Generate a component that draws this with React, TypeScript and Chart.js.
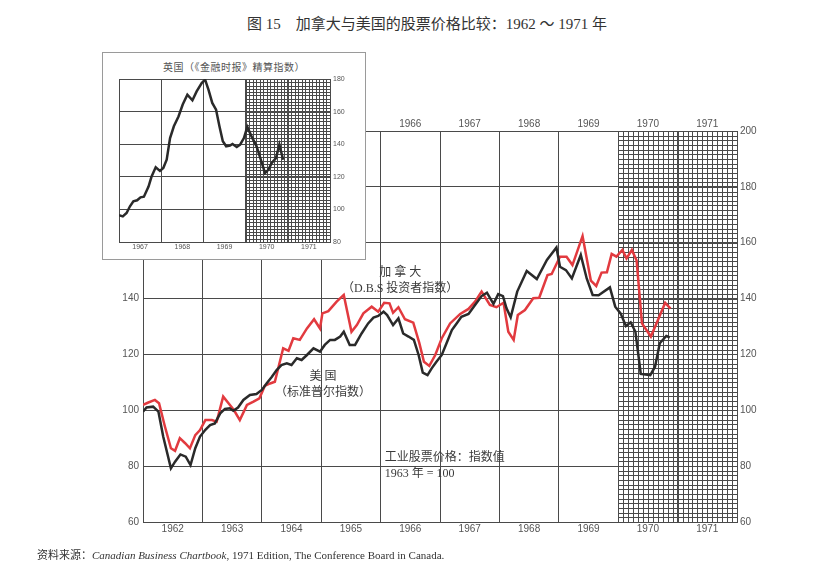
import React, { useEffect, useRef } from 'react';
import Chart from 'chart.js/auto';

// 主图：年份网格与年份标签
const gridYears = [1962, 1963, 1964, 1965, 1966, 1967, 1968, 1969, 1970, 1971, 1972];
const labelYears = [1962, 1963, 1964, 1965, 1966, 1967, 1968, 1969, 1970, 1971];

// 美国（标准普尔指数），1963 年 = 100
const usYears = [
  1962.0, 1962.06, 1962.17, 1962.26, 1962.34, 1962.47, 1962.54, 1962.63, 1962.72, 1962.8,
  1962.88, 1962.96, 1963.05, 1963.13, 1963.21, 1963.3, 1963.38, 1963.46, 1963.52, 1963.6,
  1963.69, 1963.8, 1963.91, 1964.0, 1964.08, 1964.17, 1964.25, 1964.33, 1964.42, 1964.5,
  1964.59, 1964.67, 1964.76, 1964.87, 1964.98, 1965.06, 1965.15, 1965.23, 1965.32, 1965.38,
  1965.48, 1965.57, 1965.68, 1965.79, 1965.88, 1965.96, 1966.05, 1966.11, 1966.21, 1966.3,
  1966.38, 1966.47, 1966.56, 1966.64, 1966.71, 1966.79, 1966.86, 1966.94, 1967.03, 1967.11,
  1967.2, 1967.28, 1967.36, 1967.48, 1967.59, 1967.7, 1967.79, 1967.9, 1967.98, 1968.06,
  1968.12, 1968.19, 1968.3, 1968.46, 1968.63, 1968.8, 1968.96, 1969.02, 1969.12, 1969.22,
  1969.37, 1969.47, 1969.57, 1969.67, 1969.86, 1969.95, 1970.04, 1970.13, 1970.21, 1970.29,
  1970.38, 1970.54, 1970.62, 1970.7, 1970.81, 1970.87,
];
const usValues = [
  99.5, 101, 101.3, 99.5, 90.6, 79.2, 81.6, 84.2, 83.4, 80.4,
  86.4, 90.6, 93, 94.7, 95.3, 98.9, 100.5, 100.7, 99.8, 101,
  103.7, 105.5, 105.8, 107.3, 109.6, 112, 114.4, 116.2, 116.8, 116.2,
  118.6, 118, 119.8, 122.2, 121, 123.4, 125.2, 125.2, 126.4, 128.1,
  123.4, 123.4, 127.5, 131.1, 133.2, 133.8, 135.3, 134.1, 130.5, 132.9,
  127.5, 126.4, 125.2, 119.8, 113.5, 112.6, 115, 117.4, 119.8, 124,
  128.7, 131.1, 133.5, 134.5, 137.7, 140.9, 142.1, 138.1, 141.6, 140.9,
  136.5, 133.3, 142.5, 149.9, 147, 153.8, 158.3, 151.4, 150.2, 147.2,
  155.6, 147.2, 141.3, 141.2, 144, 137.1, 134.7, 130.2, 131.5, 128.1,
  113, 112.6, 115.6, 124, 126.6, 126.1,
];

// 加拿大（D.B.S 投资者指数）
const caYears = [
  1962.0, 1962.08, 1962.2, 1962.27, 1962.37, 1962.47, 1962.54, 1962.62, 1962.71, 1962.79,
  1962.88, 1962.96, 1963.05, 1963.16, 1963.24, 1963.35, 1963.44, 1963.53, 1963.63, 1963.75,
  1963.86, 1963.96, 1964.05, 1964.14, 1964.22, 1964.36, 1964.45, 1964.53, 1964.64, 1964.76,
  1964.88, 1964.98, 1965.02, 1965.12, 1965.26, 1965.38, 1965.51, 1965.6, 1965.71, 1965.85,
  1965.96, 1966.06, 1966.15, 1966.21, 1966.3, 1966.41, 1966.55, 1966.65, 1966.73, 1966.82,
  1966.92, 1967.03, 1967.17, 1967.34, 1967.48, 1967.59, 1967.7, 1967.84, 1967.95, 1968.07,
  1968.15, 1968.24, 1968.31, 1968.43, 1968.57, 1968.67, 1968.81, 1968.88, 1969.02, 1969.13,
  1969.23, 1969.4, 1969.54, 1969.63, 1969.72, 1969.81, 1969.89, 1969.97, 1970.07, 1970.14,
  1970.23, 1970.31, 1970.4, 1970.55, 1970.68, 1970.79, 1970.88,
];
const caValues = [
  101.9, 102.7, 103.7, 102.5, 94.1, 86.4, 85.5, 90, 88.2, 86.4,
  91.1, 92.9, 96.5, 96.5, 95.9, 104.9, 102.5, 100.1, 96.5, 101.9,
  103.1, 104.3, 108.7, 109.6, 110.2, 122.2, 121.3, 125.8, 125.2, 129.3,
  132.6, 129.3, 134.7, 135.5, 138.9, 141.3, 128.1, 130.5, 134.7, 137.1,
  135.3, 138.5, 138.3, 134.9, 136.9, 132.6, 131.4, 124.2, 117.4, 115.9,
  119.8, 125.8, 131.1, 134.5, 136.3, 138.9, 142.5, 137.7, 136.9, 138.5,
  128.1, 125.2, 134.1, 135.9, 140.1, 140.3, 148.4, 148.8, 155, 155,
  152, 162.4, 146.4, 144.5, 149.3, 149.4, 156, 155, 157.4, 154.4,
  157.4, 153.6, 131.1, 126.4, 132.9, 138.5, 136.4,
];

// 插图：英国（《金融时报》精算指数）
const ukGridYears = [1967, 1968, 1969, 1970, 1971, 1972];
const ukLabelYears = [1967, 1968, 1969, 1970, 1971];
const ukYears = [
  1967.0, 1967.09, 1967.18, 1967.26, 1967.34, 1967.43, 1967.51, 1967.59, 1967.7, 1967.77,
  1967.87, 1967.97, 1968.05, 1968.13, 1968.21, 1968.3, 1968.41, 1968.51, 1968.62, 1968.74,
  1968.84, 1968.96, 1969.04, 1969.12, 1969.21, 1969.3, 1969.38, 1969.46, 1969.54, 1969.63,
  1969.69, 1969.79, 1969.87, 1969.96, 1970.04, 1970.14, 1970.26, 1970.36, 1970.46, 1970.54,
  1970.62, 1970.72, 1970.8, 1970.89,
];
const ukValues = [
  96.4, 95.7, 97.8, 101.9, 105, 105.6, 107.4, 107.8, 114, 120,
  125.8, 123.6, 125.4, 130.5, 143.8, 151, 157, 164.3, 170.4, 166.9,
  172.4, 177.5, 179.6, 173.5, 165.3, 161.2, 151, 141.8, 138.7, 139.1,
  140.1, 138.3, 139.7, 143.8, 150.6, 144.8, 138.7, 130.5, 122.3, 124.3,
  128.5, 131.5, 139.7, 130.5,
];

const GRID = '#4a4a4a';
const TICK = '#555';
const RED = '#e23a3f';
const INK = '#2a2a2a';
const CJK_SERIF = '"Liberation Serif", "Noto Sans CJK SC", serif';

const toPoints = (xs: number[], ys: number[]) => xs.map((x, i) => ({ x, y: ys[i] }));

// 1970 年以后的细格（预测区）
const hatchPlugin = (from: number, to: number, valueStep: number) => ({
  id: 'hatch',
  beforeDatasetsDraw(chart: any) {
    const { ctx, chartArea } = chart;
    const xs = chart.scales.x;
    const ys = chart.scales.y;
    const left = xs.getPixelForValue(from);
    const right = xs.getPixelForValue(to);
    ctx.save();
    ctx.strokeStyle = GRID;
    ctx.lineWidth = 1;
    ctx.beginPath();
    for (let m = 0; m <= (to - from) * 12; m++) {
      const px = Math.round(xs.getPixelForValue(from + m / 12)) + 0.5;
      ctx.moveTo(px, chartArea.top);
      ctx.lineTo(px, chartArea.bottom);
    }
    for (let v = ys.min; v <= ys.max + 1e-6; v += valueStep) {
      const py = Math.round(ys.getPixelForValue(v)) + 0.5;
      ctx.moveTo(left, py);
      ctx.lineTo(right, py);
    }
    ctx.stroke();
    ctx.restore();
  },
});

const notesPlugin = {
  id: 'notes',
  afterDraw(chart: any) {
    const { ctx } = chart;
    const xs = chart.scales.x;
    const ys = chart.scales.y;
    const put = (text: string, x: number, y: number) => {
      ctx.fillText(text, xs.getPixelForValue(x), ys.getPixelForValue(y));
    };
    ctx.save();
    ctx.fillStyle = '#3a3a3a';
    ctx.textBaseline = 'middle';
    ctx.font = `12px ${CJK_SERIF}`;
    ctx.textAlign = 'center';
    put('加 拿 大', 1966.33, 149.2);
    put('（D.B.S 投资者指数）', 1966.33, 143.4);
    put('美 国', 1965.03, 111.9);
    put('（标准普尔指数）', 1965.03, 106.2);
    ctx.textAlign = 'left';
    put('工业股票价格：指数值', 1966.07, 82.9);
    put('1963 年 = 100', 1966.07, 77.2);
    ctx.restore();
  },
};

const yearAxis = (years: number[], position: 'top' | 'bottom', font: number, height: number) => ({
  type: 'linear' as const,
  axis: 'x' as const,
  position,
  weight: 1,
  afterBuildTicks: (axis: any) => {
    axis.ticks = years.map((y) => ({ value: y + 0.5 }));
  },
  afterFit: (axis: any) => {
    axis.height = height;
  },
  ticks: {
    autoSkip: false,
    maxRotation: 0,
    minRotation: 0,
    padding: 1,
    color: TICK,
    font: { family: '"Liberation Sans", sans-serif', size: font },
    callback: (v: any) => String(Math.floor(Number(v))),
  },
  grid: { display: false, drawTicks: false },
  border: { display: false },
});

export default function App() {
  const mainRef = useRef<HTMLCanvasElement | null>(null);
  const insetRef = useRef<HTMLCanvasElement | null>(null);

  useEffect(() => {
    if (!mainRef.current || !insetRef.current) return;

    const bottomAxis = { ...yearAxis(labelYears, 'bottom', 10, 16), min: 1962, max: 1972 };
    const topAxis = {
      ...yearAxis(labelYears.filter((y) => y >= 1966), 'top', 10, 18),
      min: 1962,
      max: 1972,
    };

    const main = new Chart(mainRef.current, {
      type: 'line',
      data: {
        datasets: [
          {
            label: '美国',
            data: toPoints(usYears, usValues),
            borderColor: INK,
            borderWidth: 2.5,
            pointRadius: 0,
            tension: 0,
            xAxisID: 'x',
            yAxisID: 'y',
          },
          {
            label: '加拿大',
            data: toPoints(caYears, caValues),
            borderColor: RED,
            borderWidth: 2.5,
            pointRadius: 0,
            tension: 0,
            xAxisID: 'x',
            yAxisID: 'y',
          },
        ],
      },
      options: {
        responsive: false,
        animation: false,
        layout: { padding: { left: 113, right: 45, top: 113, bottom: 46 } },
        plugins: { legend: { display: false }, tooltip: { enabled: false }, title: { display: false } },
        scales: {
          x: {
            type: 'linear',
            position: 'bottom',
            weight: 0,
            min: 1962,
            max: 1972,
            afterBuildTicks: (axis: any) => {
              axis.ticks = gridYears.map((v) => ({ value: v }));
            },
            afterFit: (axis: any) => {
              axis.height = 0;
            },
            ticks: { display: false },
            grid: { color: GRID, lineWidth: 1, drawTicks: false },
            border: { color: GRID, width: 1 },
          },
          xLabel: bottomAxis,
          xTop: { ...topAxis, border: { display: true, color: GRID, width: 1 } },
          y: {
            type: 'linear',
            position: 'left',
            min: 60,
            max: 200,
            afterFit: (axis: any) => {
              axis.width = 30;
            },
            ticks: {
              stepSize: 20,
              padding: 4,
              color: TICK,
              font: { family: '"Liberation Sans", sans-serif', size: 10 },
              callback: (v: any) => (Number(v) <= 140 ? String(v) : ''),
            },
            grid: { color: GRID, lineWidth: 1, drawTicks: false },
            border: { color: GRID, width: 1 },
          },
          yRight: {
            type: 'linear',
            axis: 'y',
            position: 'right',
            min: 60,
            max: 200,
            afterFit: (axis: any) => {
              axis.width = 40;
            },
            ticks: {
              stepSize: 20,
              padding: 3,
              color: TICK,
              font: { family: '"Liberation Sans", sans-serif', size: 10 },
            },
            grid: { display: false, drawTicks: false },
            border: { color: GRID, width: 1 },
          },
        } as any,
      },
      plugins: [hatchPlugin(1970, 1972, 20 / 12), notesPlugin],
    });

    const inset = new Chart(insetRef.current, {
      type: 'line',
      data: {
        datasets: [
          {
            label: '英国',
            data: toPoints(ukYears, ukValues),
            borderColor: INK,
            borderWidth: 2.5,
            pointRadius: 0,
            tension: 0,
            xAxisID: 'x',
            yAxisID: 'y',
          },
        ],
      },
      options: {
        responsive: false,
        animation: false,
        layout: { padding: { left: 16, right: 15, top: 26, bottom: 5 } },
        plugins: { legend: { display: false }, tooltip: { enabled: false }, title: { display: false } },
        scales: {
          x: {
            type: 'linear',
            position: 'bottom',
            weight: 0,
            min: 1967,
            max: 1972,
            afterBuildTicks: (axis: any) => {
              axis.ticks = ukGridYears.map((v) => ({ value: v }));
            },
            afterFit: (axis: any) => {
              axis.height = 0;
            },
            ticks: { display: false },
            grid: { color: GRID, lineWidth: 1, drawTicks: false },
            border: { color: GRID, width: 1 },
          },
          xLabel: { ...yearAxis(ukLabelYears, 'bottom', 7, 12), min: 1967, max: 1972 },
          y: {
            type: 'linear',
            position: 'left',
            min: 80,
            max: 180,
            afterFit: (axis: any) => {
              axis.width = 0;
            },
            ticks: { display: false, stepSize: 20 },
            grid: { color: GRID, lineWidth: 1, drawTicks: false },
            border: { color: GRID, width: 1 },
          },
          yRight: {
            type: 'linear',
            axis: 'y',
            position: 'right',
            min: 80,
            max: 180,
            afterFit: (axis: any) => {
              axis.width = 20;
            },
            ticks: {
              stepSize: 20,
              padding: 3,
              color: TICK,
              font: { family: '"Liberation Sans", sans-serif', size: 7 },
            },
            grid: { display: false, drawTicks: false },
            border: { color: GRID, width: 1 },
          },
        } as any,
      },
      plugins: [hatchPlugin(1970, 1972, 2)],
    });

    return () => {
      main.destroy();
      inset.destroy();
    };
  }, []);

  return (
    <div
      style={{
        position: 'fixed',
        left: 0,
        top: 0,
        width: 822,
        height: 584,
        background: '#fff',
        overflow: 'hidden',
        fontFamily: CJK_SERIF,
        color: '#333',
      }}
    >
      <div style={{ position: 'absolute', left: 247, top: 12, fontSize: 15, whiteSpace: 'nowrap' }}>
        图 15　加拿大与美国的股票价格比较：1962 ～ 1971 年
      </div>
      <canvas ref={mainRef} width={822} height={584} style={{ position: 'absolute', left: 0, top: 0 }} />
      <div
        style={{
          position: 'absolute',
          left: 102,
          top: 52,
          width: 262,
          height: 206,
          border: '1px solid #9a9a9a',
          background: '#fff',
        }}
      >
        <div
          style={{
            position: 'absolute',
            left: 0,
            top: 6,
            width: 262,
            textAlign: 'center',
            fontSize: 10,
            color: '#555',
            whiteSpace: 'nowrap',
            letterSpacing: 0.5,
          }}
        >
          英国（《金融时报》精算指数）
        </div>
        <canvas ref={insetRef} width={262} height={206} style={{ position: 'absolute', left: 0, top: 0 }} />
      </div>
      <div style={{ position: 'absolute', left: 37, top: 546, fontSize: 11, whiteSpace: 'nowrap', color: '#333' }}>
        资料来源：<i>Canadian Business Chartbook</i>, 1971 Edition, The Conference Board in Canada.
      </div>
    </div>
  );
}
